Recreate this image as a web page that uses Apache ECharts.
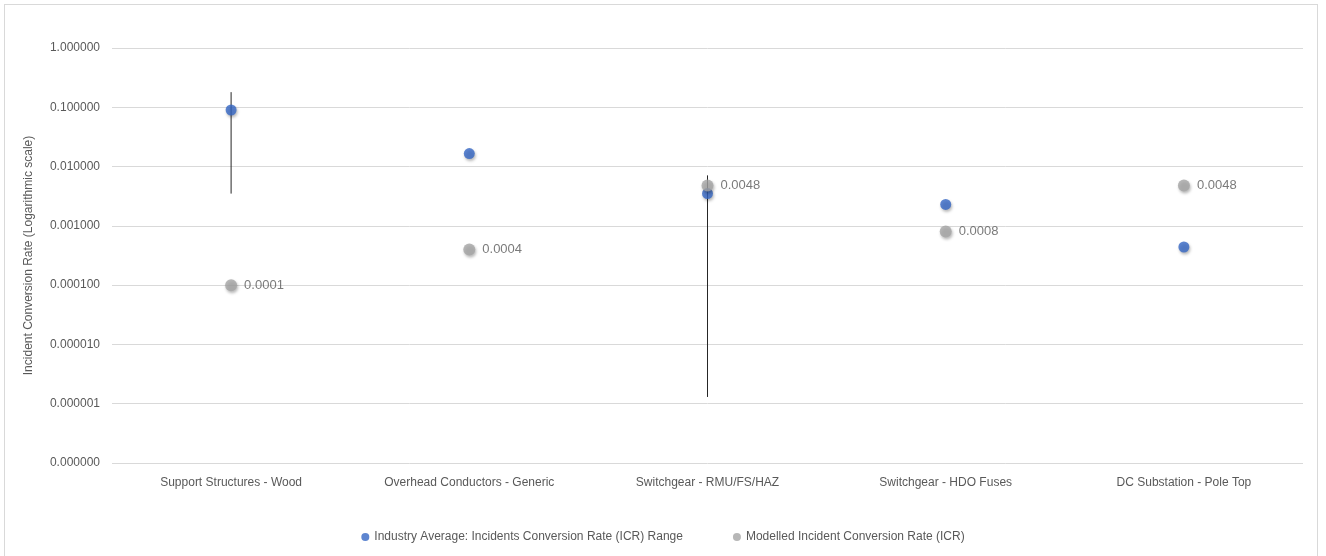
<!DOCTYPE html>
<html>
<head>
<meta charset="utf-8">
<script src="https://cdn.jsdelivr.net/npm/echarts@6/dist/echarts.min.js"></script>
<style>
  html, body { margin: 0; padding: 0; background: #ffffff; }
  #frame { position: absolute; left: 4px; top: 4px; width: 1314px; height: 600px; border: 1px solid #d9d9d9; box-sizing: border-box; }
  #chart { position: absolute; left: 0; top: 0; width: 1326px; height: 556px; }
</style>
</head>
<body>
<div id="frame"></div>
<div id="chart"></div>
<script>
// Asset classes along the x axis
const categories = [
  'Support Structures - Wood',
  'Overhead Conductors - Generic',
  'Switchgear - RMU/FS/HAZ',
  'Switchgear - HDO Fuses',
  'DC Substation - Pole Top'
];
// Industry average incident conversion rate per asset class
const industryAverage = [0.090, 0.0166, 0.0035, 0.0023, 0.00044];
// Industry range (low / high); null where no range is given
const rangeLow  = [0.0035, null, 0.0000013, null, null];
const rangeHigh = [0.18,   null, 0.0071,    null, null];
// Modelled incident conversion rate per asset class
const modelled = [0.0001, 0.0004, 0.0048, 0.0008, 0.0048];

const textColor = '#595959';
const font = 'Liberation Sans, Arial, sans-serif';

const rangeData = categories.map((c, i) => [i, rangeLow[i], rangeHigh[i]])
  .filter(d => d[1] != null);

const chart = echarts.init(document.getElementById('chart'));
chart.setOption({
  animation: false,
  textStyle: { fontFamily: font },
  grid: { left: 112, right: 23, top: 48, bottom: 93, containLabel: false },
  legend: {
    bottom: 8,
    left: 'center',
    icon: 'circle',
    itemWidth: 8,
    itemHeight: 8,
    itemGap: 50,
    textStyle: { color: textColor, fontSize: 12, fontFamily: font },
    data: [
      'Industry Average: Incidents Conversion Rate (ICR) Range',
      'Modelled Incident Conversion Rate (ICR)'
    ]
  },
  xAxis: {
    type: 'category',
    data: categories,
    boundaryGap: true,
    axisLine: { show: false },
    axisTick: { show: false },
    axisLabel: { color: textColor, fontSize: 12, margin: 14, fontFamily: font }
  },
  yAxis: {
    type: 'log',
    logBase: 10,
    min: 1e-7,
    max: 1,
    name: 'Incident Conversion Rate (Logarithmic scale)',
    nameLocation: 'middle',
    nameGap: 77,
    nameTextStyle: { color: textColor, fontSize: 12, fontFamily: font },
    axisLine: { show: false },
    axisTick: { show: false },
    splitLine: { lineStyle: { color: '#d9d9d9', width: 1 } },
    axisLabel: {
      color: textColor, fontSize: 12, margin: 12, fontFamily: font,
      formatter: v => v.toFixed(6)
    }
  },
  series: [
    {
      name: 'range',
      type: 'custom',
      z: 1,
      silent: true,
      data: rangeData,
      renderItem: (params, api) => {
        const x = api.value(0);
        const lo = api.coord([x, api.value(1)]);
        const hi = api.coord([x, api.value(2)]);
        return {
          type: 'line',
          shape: { x1: lo[0], y1: lo[1], x2: hi[0], y2: hi[1] },
          style: { stroke: '#262626', lineWidth: 1 }
        };
      }
    },
    {
      name: 'Industry Average: Incidents Conversion Rate (ICR) Range',
      type: 'scatter',
      z: 2,
      symbolSize: 11,
      data: industryAverage,
      itemStyle: {
        color: '#3467c4',
        shadowBlur: 3, shadowOffsetX: 1, shadowOffsetY: 2,
        shadowColor: 'rgba(0,0,0,0.35)'
      }
    },
    {
      name: 'Modelled Incident Conversion Rate (ICR)',
      type: 'scatter',
      z: 3,
      symbolSize: 12,
      data: modelled,
      itemStyle: {
        color: '#a5a5a5',
        shadowBlur: 3, shadowOffsetX: 1, shadowOffsetY: 2,
        shadowColor: 'rgba(0,0,0,0.35)'
      },
      label: {
        show: true,
        position: 'right',
        distance: 7,
        color: textColor,
        fontSize: 13,
        fontFamily: font,
        formatter: p => p.value.toFixed(4)
      }
    }
  ]
});
</script>
</body>
</html>
